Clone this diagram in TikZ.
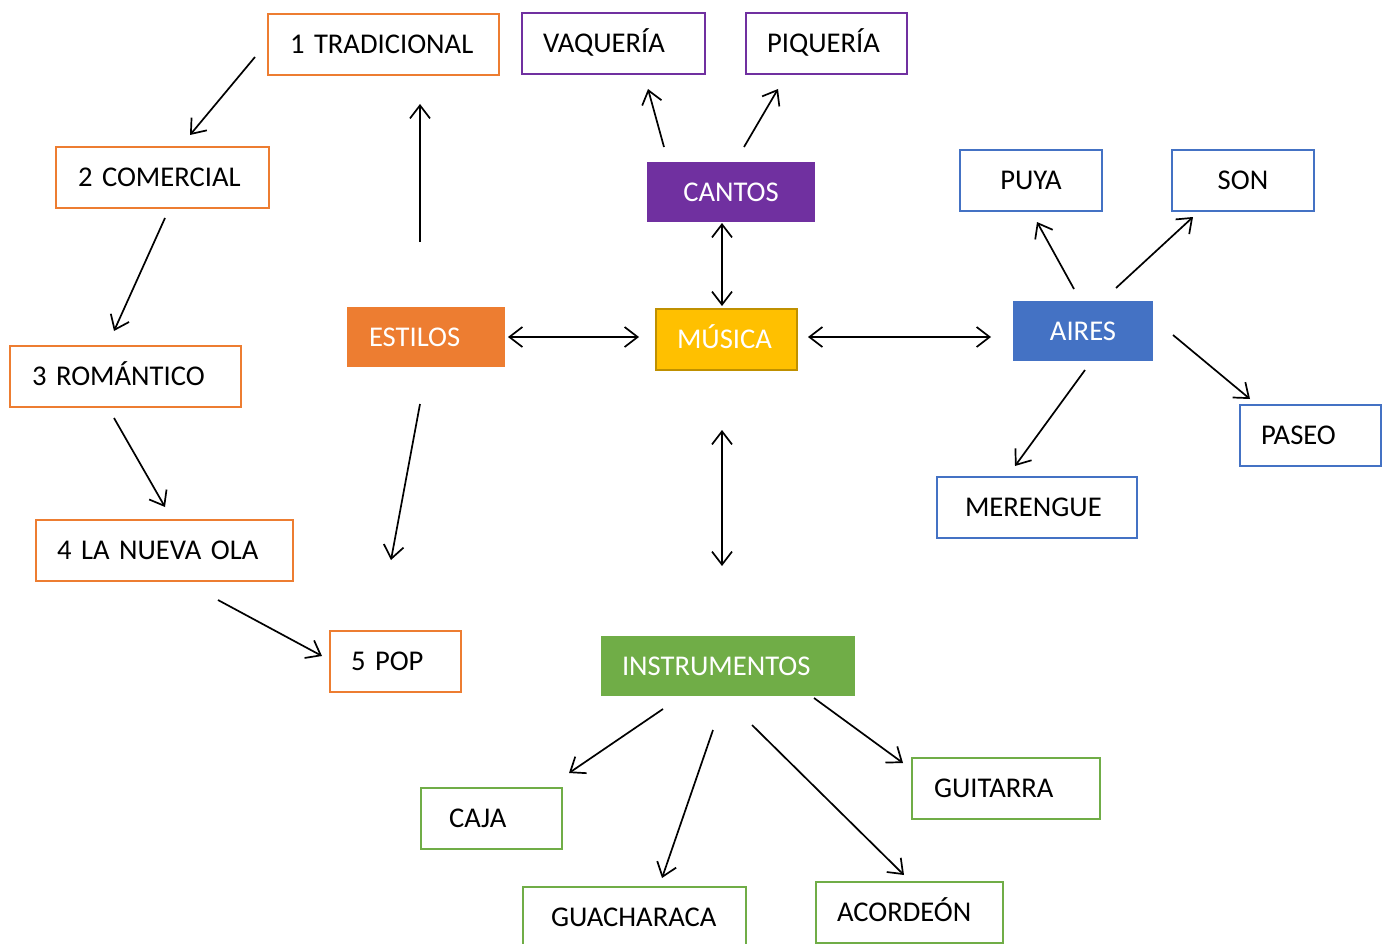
\documentclass[tikz,border=0pt]{standalone}
\usepackage{fontspec}
\setmainfont{Carlito}
\usetikzlibrary{arrows.meta}
\definecolor{orng}{HTML}{ED7D31}
\definecolor{purp}{HTML}{7030A0}
\definecolor{gold}{HTML}{FFC000}
\definecolor{golddk}{HTML}{BF9000}
\definecolor{blu}{HTML}{4472C4}
\definecolor{grn}{HTML}{70AD47}
\tikzset{
  bx/.style={anchor=north west, align=left, minimum height=61pt, inner ysep=0pt,
    text height=18.5pt, text depth=0pt, font=\fontsize{28.6}{34}\selectfont, outer sep=0pt},
  obox/.style={bx, draw, line width=2.7pt},
  fbox/.style={bx, text=white, draw=none},
  arr/.style={-{Straight Barb[length=13pt,width=20pt]}, line width=1.7pt, black},
  darr/.style={{Straight Barb[length=13pt,width=20pt]}-{Straight Barb[length=13pt,width=20pt]}, line width=1.7pt, black}
}
\begin{document}
\begin{tikzpicture}[x=1pt,y=-1pt]
\useasboundingbox (0,0) rectangle (1388,944);
\fill[white] (0,0) rectangle (1388,944);
% estilos branch
\node[obox, draw=orng, inner xsep=22pt, text width=187pt] (trad) at (268,14) {1 TRADICIONAL};
\node[obox, draw=orng, inner xsep=22pt, text width=169pt] (com) at (56,147) {2 COMERCIAL};
\node[obox, draw=orng, inner xsep=22pt, text width=187pt] (rom) at (10,346) {3 ROMÁNTICO};
\node[obox, draw=orng, inner xsep=21pt, text width=215pt] (ola) at (36,520) {4 LA NUEVA OLA};
\node[obox, draw=orng, inner xsep=21pt, text width=89pt] (pop) at (330,631) {5 POP};
\node[fbox, fill=orng, inner xsep=22pt, text width=114pt, minimum height=60pt] (est) at (347,307) {ESTILOS};
% cantos branch
\node[obox, draw=purp, inner xsep=21pt, text width=141pt] (vaq) at (522,13) {VAQUERÍA};
\node[obox, draw=purp, inner xsep=21pt, text width=119pt] (piq) at (746,13) {PIQUERÍA};
\node[fbox, fill=purp, align=center, inner xsep=10pt, text width=148pt, minimum height=60pt] (can) at (647,162) {CANTOS};
% musica
\node[obox, draw=golddk, fill=gold, text=white, inner xsep=21pt, text width=99pt] (mus) at (656,309) {MÚSICA};
% aires branch
\node[fbox, fill=blu, align=center, inner xsep=10pt, text width=120pt, minimum height=60pt] (air) at (1013,301) {AIRES};
\node[obox, draw=blu, align=center, inner xsep=10pt, text width=122pt] (puya) at (960,150) {PUYA};
\node[obox, draw=blu, align=center, inner xsep=10pt, text width=122pt] (son) at (1172,150) {SON};
\node[obox, draw=blu, inner xsep=21pt, text width=99pt] (pas) at (1240,405) {PASEO};
\node[obox, draw=blu, inner xsep=28pt, text width=144pt] (mer) at (937,477) {MERENGUE};
% instrumentos branch
\node[fbox, fill=grn, inner xsep=21pt, text width=212pt, minimum height=60pt] (ins) at (601,636) {INSTRUMENTOS};
\node[obox, draw=grn, inner xsep=28pt, text width=85pt] (caja) at (421,788) {CAJA};
\node[obox, draw=grn, inner xsep=28pt, text width=167pt] (gua) at (523,887) {GUACHARACA};
\node[obox, draw=grn, inner xsep=22pt, text width=144pt] (gui) at (912,758) {GUITARRA};
\node[obox, draw=grn, inner xsep=21pt, text width=145pt] (aco) at (816,882) {ACORDEÓN};
% arrow end points
\coordinate (a1s) at (255,57);   \coordinate (a1e) at (190,135);
\coordinate (a2s) at (165,218);  \coordinate (a2e) at (114,331);
\coordinate (a3s) at (114,418);  \coordinate (a3e) at (165,507);
\coordinate (a4s) at (218,600);  \coordinate (a4e) at (322,656);
\coordinate (a5s) at (420,242);  \coordinate (a5e) at (420,104);
\coordinate (a6s) at (420,404);  \coordinate (a6e) at (391,560);
\coordinate (a7s) at (508,337);  \coordinate (a7e) at (639,337);
\coordinate (a8s) at (722,223);  \coordinate (a8e) at (722,306);
\coordinate (a9s) at (808,337);  \coordinate (a9e) at (991,337);
\coordinate (a10s) at (722,430); \coordinate (a10e) at (722,566);
\coordinate (a11s) at (664,147); \coordinate (a11e) at (648,89);
\coordinate (a12s) at (744,147); \coordinate (a12e) at (778,89);
\coordinate (a13s) at (1074,289);\coordinate (a13e) at (1037,222);
\coordinate (a14s) at (1116,288);\coordinate (a14e) at (1193,217);
\coordinate (a15s) at (1173,335);\coordinate (a15e) at (1250,399);
\coordinate (a16s) at (1085,370);\coordinate (a16e) at (1015,466);
\coordinate (a17s) at (663,709); \coordinate (a17e) at (569,773);
\coordinate (a18s) at (713,730); \coordinate (a18e) at (662,878);
\coordinate (a19s) at (752,725); \coordinate (a19e) at (904,875);
\coordinate (a20s) at (814,698); \coordinate (a20e) at (903,763);
% connectors
\draw[arr] (a1s) -- (a1e);
\draw[arr] (a2s) -- (a2e);
\draw[arr] (a3s) -- (a3e);
\draw[arr] (a4s) -- (a4e);
\draw[arr] (a5s) -- (a5e);
\draw[arr] (a6s) -- (a6e);
\draw[darr] (a7s) -- (a7e);
\draw[darr] (a8s) -- (a8e);
\draw[darr] (a9s) -- (a9e);
\draw[darr] (a10s) -- (a10e);
\draw[arr] (a11s) -- (a11e);
\draw[arr] (a12s) -- (a12e);
\draw[arr] (a13s) -- (a13e);
\draw[arr] (a14s) -- (a14e);
\draw[arr] (a15s) -- (a15e);
\draw[arr] (a16s) -- (a16e);
\draw[arr] (a17s) -- (a17e);
\draw[arr] (a18s) -- (a18e);
\draw[arr] (a19s) -- (a19e);
\draw[arr] (a20s) -- (a20e);
\end{tikzpicture}
\end{document}
